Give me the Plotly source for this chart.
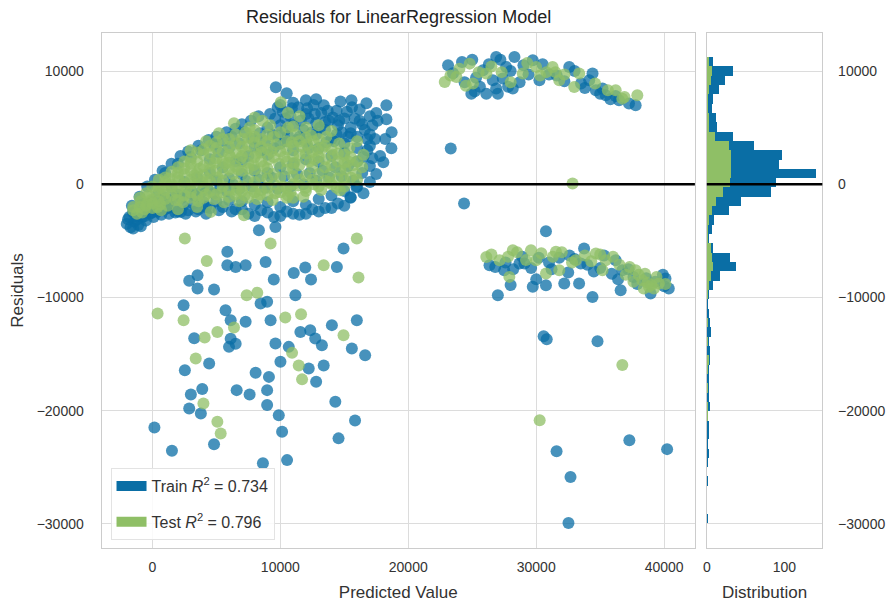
import numpy as np
import plotly.graph_objects as go

# ---------------- data ----------------
# Train residuals: (predicted value, residual)
train_points = [
    # lower edge of main band
    (-2000, -3500), (-1700, -3800), (-1400, -3300), (-1100, -3600), (-800, -2900), (-500, -3200),
    (-200, -2600), (100, -2900), (400, -2400), (700, -2700), (1000, -2200), (1300, -2600),
    (1600, -2000), (2000, -2400), (2400, -1900), (2800, -2300), (3200, -1700), (3600, -2200),
    (4000, -1600), (4500, -2100), (5000, -1500), (5500, -2000), (6000, -1400), (6500, -2200),
    (7000, -1500), (7500, -2600), (8000, -1800), (8500, -2300), (9000, -1600), (9500, -2900),
    (10000, -2000), (10500, -2400), (11000, -1500), (11500, -2700), (12000, -1800), (12500, -2200),
    (13000, -1300), (13500, -2100), (14000, -1000), (14500, -1700), (15000, -600), (15500, -1200),
    (16000, -200), (15700, 300),
    (-1500, -3900), (-900, -3700), (2230, -2440), (4200, -2600), (8330, -4060), (9620, -3770),
    (15490, -1150), (15950, -260),
    (-1900, -3100), (-1200, -3100), (-600, -2800), (0, -2500), (600, -2300), (1200, -2100),
    (1800, -2500), (2600, -2600), (3400, -2400), (4200, -2000), (5200, -2300), (6200, -2400),
    (7000, -2200), (8000, -2800), (9000, -2500), (10000, -2800), (11000, -2600), (12000, -2600),
    (13000, -2400), (14000, -2100), (15000, -1900), (16500, -800), (17000, 200),
    # row above the lower edge
    (-1800, -2900), (-1300, -2800), (-700, -2400), (-200, -2000), (300, -1800), (800, -1600),
    (1300, -1400), (1800, -1100), (2300, -1200), (2800, -800), (3300, -1000), (3800, -700),
    (4300, -400), (4800, -800), (5300, -300), (5800, -600), (6300, 0), (6800, -400),
    (7300, 300), (7800, -200), (8300, 400), (8800, -300), (9300, 600), (9800, -400),
    (10300, 700), (10800, -200), (11300, 900), (11800, 0), (12300, 1000), (12800, 300),
    (13300, 1200), (13800, 600), (14300, 1500), (14800, 700), (15300, 1600),
    # middle of main band
    (-1500, -2500), (-800, -1800), (0, -1500), (500, -800), (1000, -1200), (1500, -300),
    (2000, -900), (2500, 200), (3000, -500), (3500, 600), (4000, -200), (4500, 1000),
    (5000, 300), (5500, 1500), (6000, 500), (6500, 2000), (7000, 900), (7500, 2500),
    (8000, 1200), (8500, 3000), (9000, 1000), (9500, 3200), (10000, 1500), (10500, 3800),
    (11000, 1800), (11500, 4200), (12000, 2200), (12500, 4600), (13000, 2000), (13500, 4800),
    (14000, 2500), (14500, 5200), (15000, 2800), (15500, 4500), (16000, 3200), (16500, 2400),
    (17000, 1600), (16800, 4000),
    (1000, 1000), (2000, 1800), (3000, 2400), (3800, 3000), (4500, 2200), (5200, 2800),
    (6000, 3200), (7000, 2000), (8000, 3300), (9000, 2600), (10000, 3600), (11000, 3000),
    (12000, 3800), (13000, 3200), (14000, 4000), (15000, 3600), (16000, 2000), (17000, 3400),
    (17500, 900),
    # upper part of main band
    (4800, 3500), (5500, 3800), (6200, 4200), (6800, 3600), (7200, 4600), (7800, 4000),
    (8400, 4500), (9000, 5000), (9600, 5800), (10200, 6400), (10800, 6000), (11400, 6800),
    (12000, 6200), (12600, 7000), (13200, 6300), (13800, 5600), (14400, 6500), (15000, 5800),
    (15600, 6800), (16200, 5600), (16600, 4800), (17200, 5200), (11000, 5200), (12800, 5400),
    (14200, 3800), (9800, 4300), (10000, 7000), (11000, 7200), (12200, 5800), (13500, 5500),
    (14800, 4600), (15500, 5000), (16200, 6600), (17000, 4400), (11800, 4800), (10400, 4800),
    (9650, 8560), (10500, 8030), (12000, 7410), (13400, 6970), (15560, 7410), (16730, 7150),
    (18290, 6970), (18290, 5740), (18680, 3180), (18050, 1940), (12800, 7500), (14700, 7300),
    (17500, 6300),
    (9200, 6200), (9800, 6800), (10400, 5800), (10900, 6700), (11600, 5600), (12100, 6700),
    (12700, 6200), (13100, 5000), (13700, 6500), (14100, 5900), (14600, 5600), (15200, 6400),
    (15800, 5800), (16400, 5300), (17000, 6000), (17600, 5600), (16000, 4200), (15300, 4200),
    (14400, 4400), (13600, 3700), (12800, 4400), (12200, 3200), (11300, 3900), (10600, 4300),
    (10000, 5200), (9400, 4400), (8800, 3800), (17400, 4000), (17800, 2500), (16800, 3000),
    (17200, 2300), (16400, 1000), (8300, 6000), (7700, 5600), (7000, 5300), (6500, 4900),
    (5800, 4600), (5000, 4200), (4400, 3900), (3600, 3400), (2800, 2900), (2200, 2500),
    (1500, 1800), (800, 1200), (200, 400), (-400, -200), (-1000, -1100), (-1600, -1900),
    (18700, 4600), (18200, 4000),
    # scattered low outliers (left)
    (5860, -5970), (5860, -7150), (6510, -7300), (7290, -7150), (8850, -6860), (3530, -8030),
    (2880, -8530), (3530, -9210), (4820, -9300), (9490, -8410), (11050, -7830), (11950, -7350),
    (12400, -8410), (14420, -7300), (14940, -5680), (11180, -9800), (8970, -10380), (8460, -10530),
    (2440, -10680), (5720, -11120), (6120, -12000), (7290, -12140), (9240, -12000), (11570, -13040),
    (12340, -12890), (14030, -12440), (15980, -12000), (3270, -13590), (6120, -13650), (6510, -14090),
    (5990, -14360), (9620, -14060), (10660, -14360), (12730, -13620), (13250, -14210), (15590, -14500),
    (16630, -15090), (4440, -15830), (10010, -15680), (2540, -16420), (8070, -16650), (9110, -17010),
    (12220, -16270), (12800, -17430), (13390, -16000), (8970, -18180), (6590, -18180), (7600, -18560),
    (3900, -18090), (3010, -18560), (2880, -19800), (3790, -20240), (8970, -19500), (9880, -20390),
    (10140, -21860), (14300, -19210), (15840, -20870), (14550, -22440), (160, -21480), (1530, -23540),
    (4820, -22950), (10530, -24360), (8640, -24630),
    # upper right cluster
    (23110, 10500), (24930, 8000), (26100, 8000), (25840, 10060), (26870, 11240), (26610, 9180),
    (28300, 11240), (28170, 8450), (27650, 10360), (29730, 10940), (30250, 9180), (32580, 10360),
    (34140, 9180), (34660, 8300), (35430, 7860), (37770, 6970), (34400, 9770), (27390, 9330),
    (26870, 8450), (35180, 8450), (36470, 7410), (37250, 7120), (25300, 9400), (29000, 10500),
    (31000, 9700), (33500, 8900), (24400, 9000),
    (23500, 9800), (24200, 10800), (25000, 11000), (25600, 8600), (26300, 10600), (27200, 11000),
    (27000, 8000), (28000, 10000), (28700, 9000), (29400, 9700), (30500, 10600), (31600, 9600),
    (32200, 9100), (33000, 10000), (33800, 8500), (35000, 8000), (35800, 7500), (36200, 7800),
    (27800, 8600), (25200, 8200),
    # isolated right points
    (23320, 3150), (24360, -1710), (30760, -4150),
    # lower right band
    (26350, -7150), (28690, -7000), (29730, -9060), (30760, -8910), (32190, -8770), (33350, -8770),
    (33740, -5680), (34400, -9950), (36210, -6710), (36730, -7590), (36600, -9360), (38940, -9650),
    (40100, -8330), (40360, -9210), (27000, -9800), (29080, -7000), (33480, -7000), (27500, -7600),
    (31000, -6900), (35000, -7400), (37600, -8200), (32600, -6300),
    (26800, -7300), (27600, -6900), (28200, -7500), (28900, -6400), (29600, -7400), (30200, -6500),
    (31200, -7500), (31800, -6500), (32500, -7800), (33000, -6600), (34000, -7100), (34500, -7700),
    (35300, -6300), (35900, -7900), (36400, -8400), (37200, -7500), (37900, -8800), (38600, -8300),
    (39300, -8600), (40000, -9000), (39900, -8000), (30000, -8400), (28000, -8900),
    # lower right outliers
    (30580, -13420), (30820, -13680), (34790, -13860), (37280, -22600), (31590, -23570),
    (32680, -25860), (32520, -29920), (40230, -23390),
]

# Test residuals: (predicted value, residual)
test_points = [
    # lower edge of main band
    (-1200, -2600), (-600, -2200), (0, -2100), (600, -1800), (1200, -1900), (1800, -1400),
    (2400, -1600), (3000, -1200), (3600, -1500), (4200, -900), (4800, -1300), (5400, -700),
    (6000, -1100), (6600, -500), (7200, -1000), (7800, -400), (8400, -900), (9000, -300),
    (9600, -800), (10200, -200), (10800, -700), (11400, -100), (12000, -600), (12600, 0),
    (13200, -500), (13800, 200), (14400, -300), (15000, 400),
    (7160, -2740), (14670, -530), (4570, -2440), (410, -2000), (-100, -1400), (680, -2300),
    # middle of main band
    (-900, -1500), (-300, -1000), (300, -600), (900, -900), (1500, -200), (2100, 300),
    (2700, -300), (3300, 800), (3900, 200), (4500, 1300), (5100, 600), (5700, 1800),
    (6300, 900), (6900, 2300), (7500, 1400), (8100, 2700), (8700, 1600), (9300, 2900),
    (9900, 1800), (10500, 3100), (11100, 1900), (11700, 3300), (12300, 2000), (12900, 3000),
    (13500, 1500), (14100, 2600), (14700, 1200), (15300, 2000), (15900, 900), (16400, 1500),
    (-800, -2500), (-400, -1700), (200, -1300), (700, -300), (1300, 500), (1900, -700),
    (2500, 900), (3100, 100), (3700, 1400), (4300, 500), (4900, 1900), (5500, 1000),
    (6100, 2400), (6700, 1300), (7300, 2900), (7900, 1700), (8500, 3300), (9100, 2200),
    (9700, 3500), (10300, 2400), (10900, 3700), (11500, 2600), (12100, 3500), (12700, 2200),
    (13300, 3200), (13900, 900), (14500, 2000), (15100, 1300), (15700, 1700), (5600, -1600),
    (6800, -1500), (8200, -1300), (9400, -1400), (10600, -1000), (11800, -1100), (3500, -2000),
    (2000, -2200), (10500, -1200), (7000, -200), (4000, -300), (9000, 500), (11000, 700),
    (-1500, -2000), (1000, 200), (2000, 1000),
    (-1500, -2300), (-1000, -2000), (-1000, -1200), (-500, -1900), (-500, -800), (0, -1700),
    (0, -200), (500, -1500), (500, -400), (500, 400), (1000, -1300), (1000, -500), (1000, 600),
    (1500, -1000), (1500, 0), (1500, 1100), (2000, -1400), (2000, -300), (2000, 600),
    (2000, 1500), (2500, -1000), (2500, 0), (2500, 1400), (2500, 2000), (3000, -700),
    (3000, 400), (3000, 1200), (3000, 2200), (3500, -1000), (3500, 0), (3500, 1000),
    (3500, 2000), (3500, 2800), (4000, -1200), (4000, 800), (4000, 1600), (4000, 3100),
    (4500, -600), (4500, 300), (4500, 1800), (4500, 2700), (4500, 3400), (5000, -900),
    (5000, 1200), (5000, 2300), (5000, 3700), (5500, -200), (5500, 300), (5500, 2000),
    (5500, 2900), (5500, 4000), (6000, -500), (6000, 1300), (6000, 1900), (6000, 3300),
    (6500, -900), (6500, 200), (6500, 1600), (6500, 2800), (6500, 3600), (6500, 4400),
    (7000, -600), (7000, 1200), (7000, 2500), (7000, 4000), (7500, -1200), (7500, 500),
    (7500, 1900), (7500, 3400), (7500, 4100), (8000, -700), (8000, 200), (8000, 1300),
    (8000, 2400), (8000, 3700), (8000, 4800), (8500, -500), (8500, 700), (8500, 2000),
    (8500, 2800), (8500, 4000), (9000, -1000), (9000, 1400), (9000, 3100), (9000, 4400),
    (9500, 0), (9500, 900), (9500, 2400), (9500, 4200), (10000, -700), (10000, 600),
    (10000, 2900), (10000, 4600), (10500, -300), (10500, 1300), (10500, 2000), (10500, 3800),
    (11000, -1200), (11000, 0), (11000, 1400), (11000, 2500), (11000, 3400), (11000, 5100),
    (11500, 400), (11500, 1700), (11500, 3800), (12000, -300), (12000, 800), (12000, 2700),
    (12000, 4100), (12500, 400), (12500, 1500), (12500, 2900), (13000, -200), (13000, 900),
    (13000, 2400), (13000, 4000), (13500, 300), (13500, 2200), (13500, 3400), (14000, 0),
    (14000, 1700), (14000, 3100), (14500, 500), (14500, 2700), (15000, -200), (15000, 1900),
    (15000, 2600), (15500, 600), (15500, 2400), (16000, 400), (16000, 2000),
    # upper part of main band
    (3000, 1800), (4000, 2600), (5000, 3200), (6000, 4000), (6380, 5380), (7000, 3300),
    (8000, 4200), (9000, 3800), (10040, 7240), (10600, 5000), (11200, 4400), (12000, 5000),
    (12600, 3800), (13600, 4200), (14600, 3600), (15400, 3200), (8600, 5600), (7600, 5000),
    (11500, 6000), (6000, 2600), (3000, 3000), (4200, 3800), (5200, 4500), (7300, 4600),
    (8000, 5900), (9200, 5200), (10600, 6300), (12400, 4300), (13000, 5200), (14000, 4700),
    (16000, 3800), (16500, 2600),
    # scattered low outliers (left)
    (2540, -4790), (9240, -5240), (15980, -4790), (4250, -6770), (13390, -7150), (16110, -8240),
    (410, -11410), (2440, -12000), (7370, -9800), (8200, -9580), (10390, -11770), (11620, -11470),
    (5080, -13040), (4090, -13530), (6380, -12650), (14940, -13330), (3390, -15390), (10920, -14890),
    (11440, -16000), (11700, -17230), (3990, -19360), (5080, -20980), (5340, -22010),
    # upper right cluster
    (22850, 9030), (23760, 9470), (24800, 10650), (25060, 8890), (29990, 10360), (31280, 10360),
    (32970, 8590), (36210, 8300), (36730, 7560), (37900, 7860), (33360, 9770), (31800, 9180),
    (28950, 9770), (26100, 9770), (28000, 9000), (30800, 9900),
    (23300, 9600), (24000, 10200), (25500, 9900), (26500, 10400), (27300, 9900), (29300, 10700),
    (30300, 9600), (31500, 9900), (32200, 9700), (34600, 8900), (35600, 8300), (36900, 7700),
    (24500, 8700),
    # isolated right point
    (32840, 60),
    # lower right band
    (26100, -6420), (27130, -6710), (27900, -8180), (28170, -5830), (29590, -5830), (29990, -6710),
    (30760, -7880), (31540, -5970), (31800, -7590), (33090, -6710), (34660, -6120), (35430, -6710),
    (37770, -7590), (38290, -8470), (39580, -8770), (38810, -9060), (35180, -7590), (37000, -8000),
    (38500, -7900), (39200, -9200),
    (26500, -6200), (27800, -6400), (28500, -6000), (29200, -6700), (30400, -6100), (31300, -6400),
    (32000, -6000), (32800, -6900), (33800, -6300), (34300, -6800), (35000, -6200), (36000, -6400),
    (36500, -7100), (37300, -7300), (38000, -8000), (38700, -8700), (39400, -8200), (40100, -8800),
    (37600, -8600), (38400, -9200), (39000, -8900),
    # lower right outliers
    (36730, -15970), (30270, -20830),
]

# Residual distribution (50 bins between min and max residual), counts listed from the top bin down
resid_min, resid_max, n_bins = -29920, 11240, 50
train_counts = [8, 33, 23, 16, 8, 6, 12, 13, 33, 60,
                97, 93, 141, 89, 82, 44, 29, 9, 6, 3,
                8, 30, 37, 17, 8, 2, 1, 2, 4, 5,
                2, 4, 4, 2, 2, 2, 2, 4, 1, 2,
                2, 1, 3, 1, 0, 1, 0, 0, 0, 1]
test_counts = [3, 6, 5, 3, 1, 1, 2, 3, 10, 28,
               31, 31, 31, 30, 20, 12, 6, 3, 1, 1,
               5, 6, 8, 5, 2, 1, 0, 0, 1, 0,
               1, 0, 2, 1, 0, 1, 0, 1, 1, 0,
               0, 0, 0, 0, 0, 0, 0, 0, 0, 0]

train_label = "Train <i>R</i><sup>2</sup> = 0.734"
test_label = "Test <i>R</i><sup>2</sup> = 0.796"

# ---------------- styling ----------------
BLUE = "#0a6ea5"
GREEN = "#8fbf66"
GRID = "#dcdcdc"
FRAME = "#cccccc"
FONT = "Liberation Sans, Arial, sans-serif"
TXT = "#333333"

W, H = 892, 605
def px_x(p):
    return p / W
def px_y(p):
    return 1 - p / H

train_x, train_y = zip(*train_points)
test_x, test_y = zip(*test_points)

edges = np.linspace(resid_max, resid_min, n_bins + 1)
centers = (edges[:-1] + edges[1:]) / 2
bin_w = abs(edges[0] - edges[1])

fig = go.Figure()
fig.add_trace(go.Scatter(x=train_x, y=train_y, mode="markers", xaxis="x", yaxis="y",
                         marker=dict(size=12, color=BLUE, opacity=0.75, line=dict(width=0)),
                         showlegend=False, name="train"))
fig.add_trace(go.Scatter(x=test_x, y=test_y, mode="markers", xaxis="x", yaxis="y",
                         marker=dict(size=12, color=GREEN, opacity=0.75, line=dict(width=0)),
                         showlegend=False, name="test"))
fig.add_trace(go.Bar(x=train_counts, y=centers, orientation="h", width=bin_w,
                     xaxis="x2", yaxis="y2", marker=dict(color=BLUE, line=dict(width=0)),
                     showlegend=False))
fig.add_trace(go.Bar(x=test_counts, y=centers, orientation="h", width=bin_w,
                     xaxis="x2", yaxis="y2", marker=dict(color=GREEN, line=dict(width=0)),
                     showlegend=False))
# legend entries
fig.add_trace(go.Scatter(x=[None], y=[None], mode="lines", line=dict(color=BLUE, width=10),
                         name=train_label, legendgroup="train", xaxis="x", yaxis="y"))
fig.add_trace(go.Scatter(x=[None], y=[None], mode="lines", line=dict(color=GREEN, width=10),
                         name=test_label, legendgroup="test", xaxis="x", yaxis="y"))

ydom = [px_y(548), px_y(33)]
yrange = [-32120, 13355]
TICKF = dict(size=14, color=TXT, family=FONT)
TITLEF = dict(size=17, color=TXT, family=FONT)
common_y = dict(range=yrange, domain=ydom, tickvals=[-30000, -20000, -10000, 0, 10000],
                tickformat="d", showgrid=True, gridcolor=GRID, gridwidth=1, zeroline=False,
                showline=True, mirror=True, linecolor=FRAME, linewidth=1,
                tickfont=TICKF, ticks="")

fig.update_layout(
    width=W, height=H,
    margin=dict(l=0, r=0, t=0, b=0),
    paper_bgcolor="white", plot_bgcolor="white",
    barmode="overlay", bargap=0,
    font=dict(family=FONT, color=TXT),
    xaxis=dict(domain=[px_x(98), px_x(694)], range=[-3970, 42400],
               tickvals=[0, 10000, 20000, 30000, 40000], tickformat="d", anchor="y",
               showgrid=True, gridcolor=GRID, gridwidth=1, zeroline=False,
               showline=True, mirror=True, linecolor=FRAME, linewidth=1, ticks="",
               tickfont=TICKF, ticklabelstandoff=6,
               title=dict(text="Predicted Value", font=TITLEF, standoff=12)),
    yaxis=dict(**common_y, anchor="x", side="left", ticklabelstandoff=14,
               title=dict(text="Residuals", font=TITLEF, standoff=8)),
    xaxis2=dict(domain=[px_x(706), px_x(822)], range=[0, 149], tickvals=[0, 100], anchor="y2",
                showgrid=False, zeroline=False, showline=True, mirror=True, linecolor=FRAME,
                linewidth=1, ticks="", tickfont=TICKF, ticklabelstandoff=6,
                title=dict(text="Distribution", font=TITLEF, standoff=12)),
    yaxis2=dict(**common_y, anchor="x2", side="right", ticklabelstandoff=12),
    legend=dict(x=px_x(107), y=px_y(468), xanchor="left", yanchor="top",
                bgcolor="rgba(255,255,255,0.85)", bordercolor="#e3e3e3", borderwidth=1,
                font=dict(size=16, color=TXT, family=FONT), itemwidth=30,
                traceorder="grouped", tracegroupgap=12),
    shapes=[
        dict(type="line", xref="x domain", yref="y", x0=0, x1=1, y0=0, y1=0,
             line=dict(color="black", width=2.5), layer="above"),
        dict(type="line", xref="x2 domain", yref="y2", x0=0, x1=1, y0=0, y1=0,
             line=dict(color="black", width=2.5), layer="above"),
    ],
    annotations=[
        dict(text="Residuals for LinearRegression Model", xref="paper", yref="paper",
             x=px_x(396), y=px_y(17), xanchor="center", yanchor="middle", showarrow=False,
             font=dict(size=18, color="#222222", family=FONT)),
    ],
)

fig.write_html("out.html")
